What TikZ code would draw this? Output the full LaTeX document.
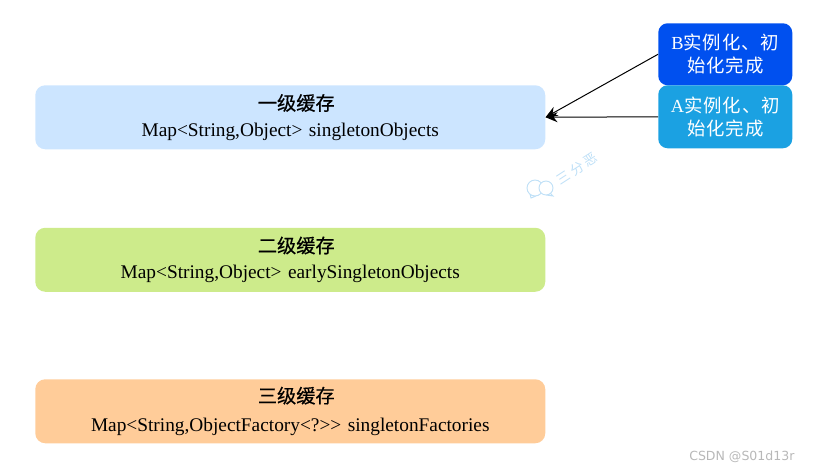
\documentclass[tikz,border=0pt]{standalone}
\usepackage{fontspec}
\setmainfont{Liberation Serif}[Ligatures=NoCommon]
\newfontfamily\cjk{Noto Sans CJK SC}
\newfontfamily\cjkt{Noto Sans CJK SC}[FakeBold=0.5]
\newfontfamily\mk{DejaVu Sans}
\usetikzlibrary{arrows.meta}
\definecolor{cOne}{HTML}{CCE5FF}
\definecolor{cTwo}{HTML}{CDEB8B}
\definecolor{cThree}{HTML}{FFCC99}
\definecolor{cB}{HTML}{0050EF}
\definecolor{cA}{HTML}{1BA1E2}
\definecolor{cWm}{HTML}{BFE0F7}
\newcommand{\ttl}[1]{\hspace*{9pt}{\cjkt\fontsize{14.4}{19.5}\selectfont #1}}
\newcommand{\zh}[1]{{\cjk\addfontfeature{LetterSpace=5}#1}}
\tikzset{
  x=0.75pt,y=-0.75pt,
  cache/.style={fill=#1,rounded corners=7.5pt,minimum width=382.5pt,minimum height=48pt,text width=382.5pt,inner sep=0pt,align=center,text=black,font=\fontsize{14.5}{19.5}\selectfont,anchor=north west},
  inst/.style={fill=#1,rounded corners=7pt,minimum width=100.5pt,text width=100.5pt,inner sep=0pt,align=center,text=white,font=\fontsize{13.8}{17.25}\selectfont,anchor=north west},
  link/.style={-{Stealth[length=9pt,width=7.5pt]},line width=0.75pt,black}
}
\begin{document}
\begin{tikzpicture}
\useasboundingbox (0,0) rectangle (817,472);
\node[cache=cOne] (l1) at (35,85) {\ttl{一级缓存}\\Map<String,Object> singletonObjects};
\node[cache=cTwo] (l2) at (35,227.5) {\ttl{二级缓存}\\Map<String,Object> earlySingletonObjects};
\node[cache=cThree] (l3) at (35,379) {\ttl{三级缓存}\\[2pt]Map<String,ObjectFactory<?>{}> singletonFactories};
\node[inst=cB,minimum height=46.5pt] (b) at (658,23) {B\zh{实例化、初}\\\zh{始化完成}};
\node[inst=cA,minimum height=47.25pt] (a) at (658,85) {A\zh{实例化、初}\\\zh{始化完成}};
\draw[link] (b.west) -- (l1.east);
\draw[link] (a.west) -- (l1.east);
% watermark
\draw[cWm,line width=0.7pt,fill=white] (535,188) circle (8) (530,194) -- (531,198) -- (536,196);
\draw[cWm,line width=0.7pt,fill=white] (546,188) circle (7) (550,193) -- (553,196) -- (546,195);
\node[rotate=33,text=cWm,inner sep=0pt,font=\cjk\fontsize{10}{10}\selectfont] (wm) at (577,169) {\addfontfeature{LetterSpace=22}三分恶};
\node[text=black!28,inner sep=0pt,anchor=west,font=\mk\fontsize{9.4}{10}\selectfont] (csdn) at (689,456.5) {CSDN @S01d13r};
\end{tikzpicture}
\end{document}
